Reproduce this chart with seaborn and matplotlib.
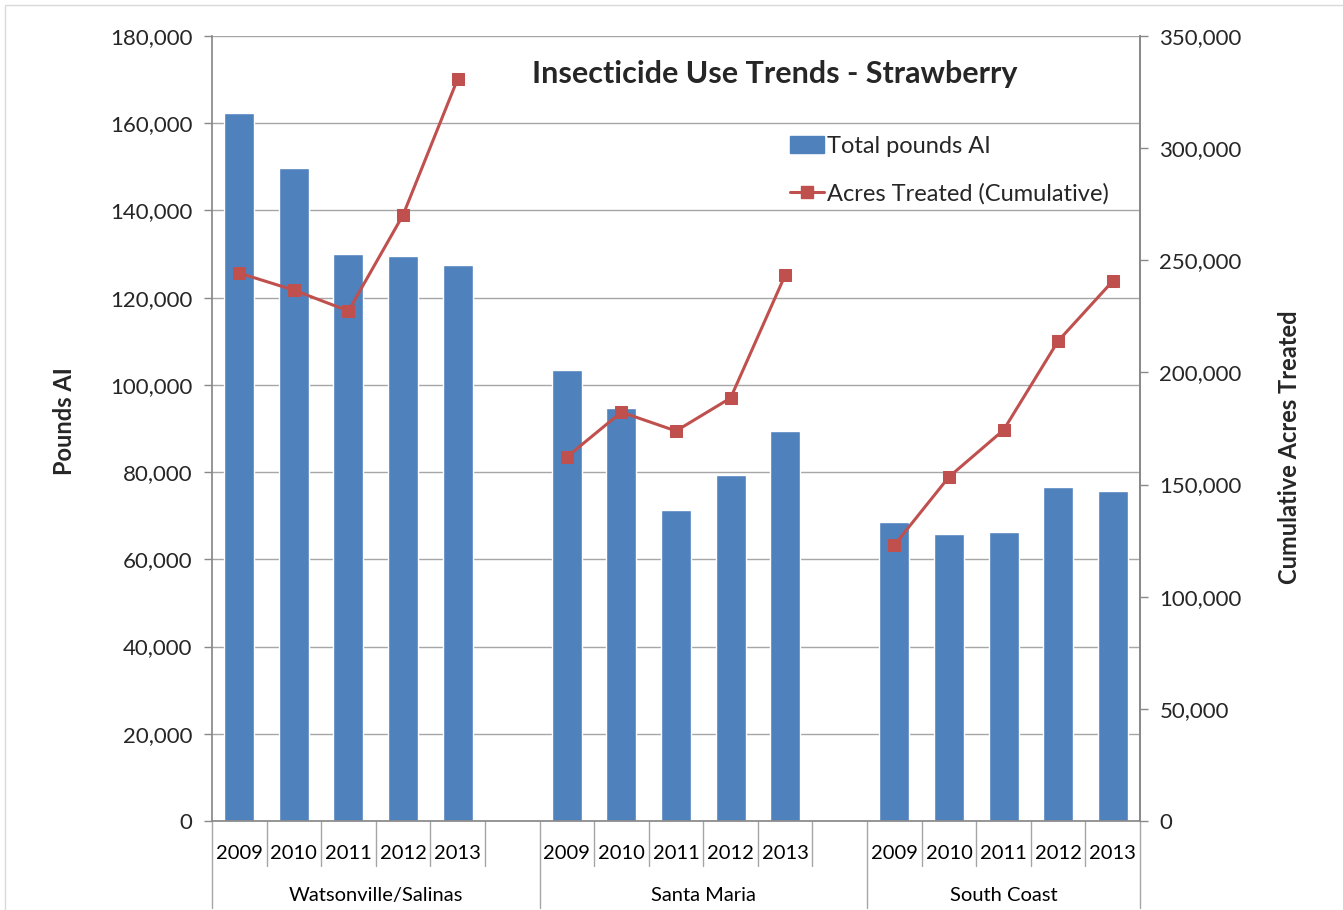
import numpy as np
import pandas as pd
import matplotlib.pyplot as plt
from matplotlib.patches import Patch, Rectangle
from matplotlib.lines import Line2D
from matplotlib.ticker import FuncFormatter
import seaborn as sns

regions = ['Watsonville/Salinas', 'Santa Maria', 'South Coast']
years = ['2009', '2010', '2011', '2012', '2013']
pounds_ai = {
    'Watsonville/Salinas': [162300, 149700, 130000, 129600, 127500],
    'Santa Maria': [103400, 94700, 71300, 79300, 89400],
    'South Coast': [68600, 65800, 66300, 76600, 75700],
}
acres_treated = {
    'Watsonville/Salinas': [244300, 236700, 227400, 270200, 330800],
    'Santa Maria': [162300, 182300, 173900, 188600, 243400],
    'South Coast': [123000, 153400, 174300, 214000, 240700],
}

BAR_BLUE = '#4F81BD'
LINE_RED = '#C0504D'
GRID = '#A6A6A6'
AXIS = '#898989'
SLOTS = 6  # five years plus one empty slot between regions

rows = []
for r, region in enumerate(regions):
    for y, year in enumerate(years):
        rows.append({'region': region, 'year': year, 'pos': r * SLOTS + y,
                     'pounds': pounds_ai[region][y], 'acres': acres_treated[region][y]})
df = pd.DataFrame(rows)

sns.set_theme(style='white')
plt.rcParams['font.family'] = ['Lato', 'DejaVu Sans']

fig = plt.figure(figsize=(13.43, 9.10), dpi=100)
ax = fig.add_axes([212 / 1343, 1 - 821 / 910, 928 / 1343, 785 / 910])

sns.barplot(data=df, x='pos', y='pounds', native_scale=True, color=BAR_BLUE,
            saturation=1, width=0.55, ax=ax, zorder=2)
n_slots = SLOTS * len(regions) - 1
ax.set_xlim(-0.5, n_slots - 0.5)
ax.set_ylim(0, 180000)
ax.set_yticks(np.arange(0, 180001, 20000))
ax.yaxis.set_major_formatter(FuncFormatter(lambda v, p: f'{int(v):,}'))
ax.yaxis.grid(True, color=GRID, linewidth=1)
ax.set_axisbelow(True)
ax.set_xticks([])
ax.set_xlabel('')
ax.set_ylabel('Pounds AI', fontsize=17, fontweight='bold')
ax.yaxis.set_label_coords(-0.147, 0.51)
ax.tick_params(axis='y', left=True, length=6, width=1, color=AXIS, labelsize=16, pad=8)
ax.spines['top'].set_visible(False)
for side in ['left', 'right', 'bottom']:
    ax.spines[side].set_color(AXIS)

ax2 = ax.twinx()
sns.lineplot(data=df, x='pos', y='acres', units='region', estimator=None,
             color=LINE_RED, linewidth=2.2, marker='s', markersize=9,
             markeredgecolor=LINE_RED, legend=False, ax=ax2, zorder=3)
ax2.set_ylim(0, 350000)
ax2.set_yticks(np.arange(0, 350001, 50000))
ax2.yaxis.set_major_formatter(FuncFormatter(lambda v, p: f'{int(v):,}'))
ax2.set_ylabel('Cumulative Acres Treated', fontsize=17, fontweight='bold')
ax2.yaxis.set_label_coords(1.149, 0.476)
ax2.tick_params(axis='y', right=True, length=6, width=1, color=AXIS, labelsize=16, pad=8)
ax2.grid(False)
for side in ['top', 'left', 'bottom']:
    ax2.spines[side].set_visible(False)
ax2.spines['right'].set_color(AXIS)
ax2.set_xlabel('')

# category axis: year labels, slot separators and region labels
trans = ax.get_xaxis_transform()
for r, region in enumerate(regions):
    start = r * SLOTS
    for y, year in enumerate(years):
        ax.text(start + y, -0.041, year, transform=trans, ha='center', va='center',
                fontsize=14.5, color='black')
    n = SLOTS if r < len(regions) - 1 else len(years)
    for k in range(1, n):
        ax.plot([start + k - 0.5] * 2, [0, -0.0573], transform=trans, color=GRID,
                linewidth=1, clip_on=False)
    ax.plot([start - 0.5] * 2, [0, -0.111], transform=trans, color=GRID,
            linewidth=1, clip_on=False)
    ax.text(start + (n - 1) / 2, -0.095, region, transform=trans, ha='center',
            va='center', fontsize=14.5, color='black')
ax.plot([n_slots - 0.5] * 2, [0, -0.111], transform=trans, color=GRID,
        linewidth=1, clip_on=False)

ax.text(0.606, 0.951, 'Insecticide Use Trends - Strawberry', transform=ax.transAxes,
        ha='center', va='center', fontsize=22, fontweight='bold')

handles = [Patch(facecolor=BAR_BLUE, edgecolor=BAR_BLUE),
           Line2D([], [], color=LINE_RED, linewidth=2.2, marker='s', markersize=9)]
ax2.legend(handles, ['Total pounds AI', 'Acres Treated (Cumulative)'],
           loc='upper left', bbox_to_anchor=(0.6, 0.9), frameon=False,
           fontsize=17, handlelength=1.45, handletextpad=0.1, labelspacing=1.1)

fig.patches.append(Rectangle((5 / 1343, -0.01), 1.02, 1 - 5 / 910 + 0.01,
                             transform=fig.transFigure, fill=False,
                             edgecolor='#D9D9D9', linewidth=1))

fig.savefig('out.png', dpi=100)
